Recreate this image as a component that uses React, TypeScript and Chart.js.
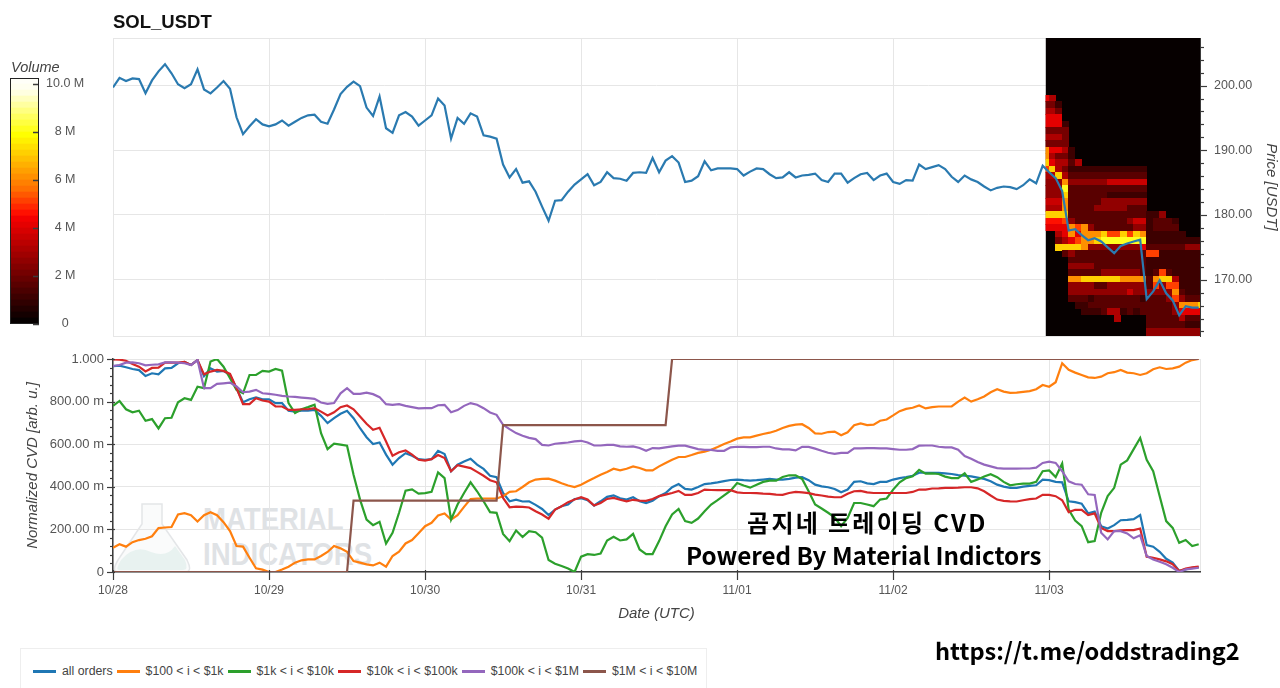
import React, { useEffect, useRef } from 'react';
import { Chart, registerables } from 'chart.js';

Chart.register(...registerables);

const FONT = '"Liberation Sans", Arial, sans-serif';

const dayLabels = ['10/28', '10/29', '10/30', '10/31', '11/01', '11/02', '11/03'];

// hourly price, one row per day
const price = [
    199.7, 201.2, 200.7, 201.1, 201, 198.8, 200.8, 202.2, 203.3, 201.9, 200.2, 199.6, 200.2, 202.5, 199.4, 198.8, 199.7, 200.7, 199.5, 195.1, 192.5, 193.7, 194.8, 194,
    193.7, 194, 194.6, 193.8, 194.4, 195, 195.4, 195.5, 194.4, 194.1, 196.3, 198.7, 199.8, 200.6, 199.9, 196.6, 195.3, 198.3, 193.4, 192.7, 195.4, 195.9, 195.2, 193.8,
    194.6, 195.4, 198, 196.9, 191.8, 195, 194.1, 195.7, 195.2, 192.3, 192.1, 191.8, 187.8, 185.8, 187.1, 185, 185.2, 183.6, 181.3, 179.1, 182.2, 182.3, 183.6, 184.7,
    185.5, 186.3, 184.6, 185.1, 186.6, 185.7, 185.6, 185.3, 186.5, 186.6, 186.5, 188.8, 186.6, 188.4, 189.1, 188.1, 185.1, 185.3, 186, 188.3, 186.9, 187.2, 187.2, 187.2,
    187.1, 186.1, 186.7, 187.2, 187.1, 186.3, 185.7, 185.8, 186.6, 185.8, 186.1, 186.2, 186.4, 185.4, 185.1, 186.4, 186.4, 185, 185.7, 186.3, 186.5, 185.4, 186.1, 186.4,
    185.1, 184.8, 185.4, 185.3, 187.8, 187.1, 187.4, 187.7, 187.1, 185.9, 185.1, 186.1, 185.5, 185.1, 184.4, 183.8, 184.2, 184.4, 184.3, 184, 184.6, 185.5, 184.9, 187.6,
    186.6, 185.7, 183.7, 177.6, 177.8, 176.9, 176.1, 176.4, 175.9, 175, 174.1, 175.2, 175.6, 175.9, 176.2, 167, 168.2, 169.9, 167.9, 166.8, 164.5, 165.9, 165.7, 165.7,
];

const allOrders = [
    .967, .969, .961, .953, .948, .92, .933, .928, .956, .958, .98, .986, .972, .995, .92, .956, .941, .944, .925, .863, .797, .811, .82, .811,
    .811, .793, .793, .757, .753, .757, .758, .761, .733, .699, .722, .743, .757, .722, .675, .633, .601, .608, .551, .504, .535, .558, .546, .53,
    .527, .53, .569, .554, .473, .504, .519, .532, .504, .484, .452, .445, .371, .332, .34, .331, .332, .315, .296, .267, .293, .309, .317, .343,
    .346, .337, .312, .332, .353, .36, .346, .34, .351, .332, .324, .335, .356, .371, .398, .413, .39, .387, .399, .413, .416, .421, .427, .432,
    .434, .431, .429, .431, .434, .437, .434, .434, .437, .443, .445, .431, .41, .402, .398, .39, .374, .387, .423, .426, .416, .413, .423, .423,
    .434, .441, .446, .452, .466, .466, .466, .465, .463, .46, .455, .452, .449, .443, .437, .426, .41, .401, .395, .395, .401, .404, .407, .434,
    .431, .423, .421, .332, .328, .321, .275, .284, .215, .204, .22, .243, .245, .248, .267, .126, .119, .095, .062, .044, .005, .012, .02, .022,
];

const tier100 = [
    .114, .13, .119, .14, .15, .156, .168, .206, .209, .211, .27, .276, .267, .237, .267, .281, .267, .234, .192, .122, .119, .067, .017, .011,
    0, 0, .012, .025, .044, .055, .059, .059, .075, .094, .122, .111, .095, .051, .044, .036, .031, .044, .025, .075, .095, .134, .15, .182,
    .215, .231, .265, .275, .246, .267, .306, .342, .345, .345, .345, .345, .356, .376, .379, .399, .421, .434, .437, .438, .429, .417, .406, .399,
    .41, .426, .441, .457, .47, .485, .477, .485, .496, .488, .477, .477, .496, .512, .527, .54, .54, .549, .559, .565, .574, .587, .601, .613,
    .626, .632, .632, .64, .648, .654, .663, .676, .686, .692, .694, .676, .651, .649, .657, .659, .642, .656, .689, .698, .69, .692, .71, .716,
    .735, .755, .766, .771, .782, .768, .774, .777, .777, .777, .8, .819, .8, .811, .824, .844, .858, .847, .841, .842, .846, .849, .858, .878,
    .87, .891, .98, .949, .936, .925, .914, .911, .917, .933, .938, .949, .936, .933, .925, .933, .952, .961, .953, .956, .964, .983, .995, 1,
];

const tier1k = [
    .78, .803, .764, .75, .757, .71, .718, .674, .722, .724, .797, .816, .808, .87, .863, .988, 1, .964, .91, .855, .839, .925, .925, .944,
    .941, .953, .945, .793, .746, .764, .774, .785, .652, .577, .602, .598, .593, .457, .34, .246, .22, .236, .134, .184, .278, .382, .388, .368,
    .37, .376, .468, .441, .246, .317, .371, .421, .379, .332, .281, .278, .179, .145, .195, .164, .192, .187, .161, .056, .039, .028, .016, 0,
    .072, .084, .08, .087, .148, .165, .148, .153, .179, .106, .084, .084, .145, .215, .27, .296, .239, .231, .251, .285, .317, .337, .36, .382,
    .418, .406, .396, .41, .423, .429, .429, .446, .454, .454, .437, .379, .317, .298, .278, .257, .215, .254, .324, .324, .317, .309, .34, .345,
    .387, .421, .441, .449, .479, .462, .463, .46, .448, .441, .441, .463, .423, .434, .448, .459, .445, .423, .407, .412, .415, .415, .423, .473,
    .477, .446, .509, .293, .242, .215, .14, .145, .278, .356, .395, .504, .524, .577, .629, .527, .473, .356, .239, .207, .137, .15, .122, .13,
];

const tier10k = [
    .998, .997, .992, .977, .964, .942, .958, .959, .983, .983, .983, .986, .972, .995, .928, .941, .949, .944, .93, .863, .788, .788, .816, .805,
    .8, .777, .777, .761, .761, .764, .764, .769, .753, .735, .75, .774, .782, .764, .73, .696, .668, .677, .613, .546, .562, .571, .551, .527,
    .523, .53, .549, .535, .473, .501, .495, .488, .47, .452, .431, .421, .348, .304, .307, .306, .303, .285, .27, .25, .293, .309, .328, .34,
    .351, .34, .312, .324, .343, .348, .339, .332, .339, .335, .334, .343, .356, .363, .371, .381, .362, .362, .371, .387, .385, .384, .385, .384,
    .374, .371, .371, .37, .368, .367, .363, .362, .371, .376, .374, .37, .363, .359, .354, .351, .351, .367, .379, .381, .374, .371, .371, .371,
    .371, .371, .371, .376, .387, .387, .392, .393, .395, .395, .396, .398, .398, .393, .379, .359, .34, .334, .332, .331, .337, .342, .345, .362,
    .362, .356, .337, .281, .292, .292, .267, .275, .207, .192, .192, .195, .197, .197, .204, .072, .067, .059, .05, .037, .005, .016, .022, .025,
];

const tier100k = [
    .967, .972, .983, .984, .98, .97, .973, .975, .984, .984, .983, .98, .972, .995, .863, .863, .883, .886, .889, .871, .844, .847, .855, .839,
    .836, .832, .827, .824, .822, .819, .816, .813, .796, .789, .793, .839, .863, .836, .836, .842, .835, .821, .788, .785, .788, .78, .774, .768,
    .769, .769, .783, .785, .75, .76, .78, .793, .785, .769, .749, .738, .691, .671, .652, .64, .63, .624, .597, .594, .602, .605, .608, .613,
    .616, .608, .594, .594, .597, .597, .59, .588, .59, .582, .569, .582, .58, .585, .59, .593, .593, .585, .577, .573, .573, .569, .569, .585,
    .588, .587, .586, .586, .588, .588, .58, .576, .576, .571, .588, .587, .579, .569, .56, .555, .559, .559, .58, .58, .582, .582, .58, .58,
    .577, .574, .574, .577, .593, .594, .594, .588, .585, .585, .574, .544, .532, .516, .504, .496, .488, .485, .485, .485, .486, .486, .49, .512,
    .518, .512, .473, .426, .413, .41, .365, .362, .184, .153, .192, .192, .181, .158, .172, .075, .059, .048, .036, .02, 0, .012, .016, .02,
];

const tier1m = [
    0, 0, 0, 0, 0, 0, 0, 0, 0, 0, 0, 0, 0, 0, 0, 0, 0, 0, 0, 0, 0, 0, 0, 0,
    0, 0, 0, 0, 0, 0, 0, 0, 0, 0, 0, 0, 0, .335, .335, .335, .335, .335, .335, .335, .335, .335, .335, .335,
    .335, .335, .335, .335, .335, .335, .335, .335, .335, .335, .335, .335, .69, .69, .69, .69, .69, .69, .69, .69, .69, .69, .69, .69,
    .69, .69, .69, .69, .69, .69, .69, .69, .69, .69, .69, .69, .69, .69, 1, 1, 1, 1, 1, 1, 1, 1, 1, 1,
    1, 1, 1, 1, 1, 1, 1, 1, 1, 1, 1, 1, 1, 1, 1, 1, 1, 1, 1, 1, 1, 1, 1, 1,
    1, 1, 1, 1, 1, 1, 1, 1, 1, 1, 1, 1, 1, 1, 1, 1, 1, 1, 1, 1, 1, 1, 1, 1,
    1, 1, 1, 1, 1, 1, 1, 1, 1, 1, 1, 1, 1, 1, 1, 1, 1, 1, 1, 1, 1, 1, 1, 1,
];

const seriesNames = ['all orders', '$100 < i < $1k', '$1k < i < $10k', '$10k < i < $100k', '$100k < i < $1M', '$1M < i < $10M'];
const seriesValues = [allOrders, tier100, tier1k, tier10k, tier100k, tier1m];
const seriesColors = ['#1f77b4', '#ff7f0e', '#2ca02c', '#d62728', '#9467bd', '#8c564b'];

// volume colour map, one colour per 0.25 M
const palette = [
    '#060000', '#140000', '#220000', '#300000', '#3d0000', '#4b0000', '#590000', '#670000', '#750000', '#830000', '#910000',
    '#9f0000', '#ad0000', '#bb0000', '#c90000', '#d70000', '#e50000', '#f30000', '#ff1000', '#ff2800', '#ff4000', '#ff5800',
    '#ff7000', '#ff8000', '#ff9000', '#ffa000', '#ffb000', '#ffc000', '#ffd000', '#ffe000', '#fff000', '#ffff00', '#ffff20',
    '#ffff40', '#ffff60', '#ffff80', '#ffffa0', '#ffffc0', '#ffffe0', '#fffff0', '#fffff8',
];
const paletteStep = 0.25;

// order book heatmap: volume in M, columns are hours from heatHourFirst, rows are price levels
const heatHourFirst = 143;
const heatHourStart = 143.44;
const heatPrices = [198, 197, 196, 195, 194, 193, 192, 191, 190, 189, 188, 187, 186, 185, 184, 183, 182, 181, 180, 179, 178, 177, 176, 175, 174, 173, 172, 171, 170, 169, 168, 167, 166, 165, 164, 163, 162, 161];
const heatVolume = [
    [4, 3],
    [2, 2, 1],
    [3, 3, 2],
    [4, 4, 4],
    [4, 4, 4, 1],
    [2, 2, 2, 2],
    [3, 3, 3, 2],
    [2, 2, 2, 2],
    [6, 4, 4, 3, 1],
    [6, 3, 2, 2, 1],
    [7, 4, 3, 3, 1.5, 3],
    [5, 7, 3, 2, 1, 1, 1, 1, 1, 1, 1, 1, 1, 1, 1, 1],
    [3, 3, 7, 3, 1.5, 1.5, 1.5, 1.5, 1.5, 1.5, 1.5, 1.5, 1.5, 1.5, 1.5, 1.5],
    [2.5, 2.5, 2.5, 6, 2.5, 2.5, 2.5, 2.5, 2.5, 2.5, 3.5, 3.5, 3.5, 3.5, 3.5, 3.5],
    [2.5, 2.5, 2.5, 8, 1.5, 1.5, 1.5, 1.5, 1.5, 1.5, 1.5, 1.5, 1.5, 1.5, 1.5, 1.5],
    [2.5, 2.5, 2.5, 7, 1.5, 1.5, 1.5, 1.5, 1.5, 1.5, 1, 1, 1, 1, 1, 1],
    [3.5, 3.5, 3.5, 6, 1.5, 1.5, 1.5, 1.5, 1.5, 2.5, 2.5, 2.5, 2.5, 2.5, 2.5, 2.5],
    [3, 3, 3, 6, 1.5, 1.5, 1.5, 1.5, 2.5, 2.5, 2.5, 2.5, 2.5, 1.5, 1.5, 1.5],
    [7, 7, 7, 7, 1.5, 1.5, 1.5, 1.5, 1.5, 1.5, 1.5, 1.5, 1.5, 1.5, 1.5, 1.5, 1, 1, 2.5],
    [4.5, 4.5, 4.5, 5, 2.5, 1.5, 1.5, 1.5, 1.5, 1.5, 1.5, 1.5, 1.5, 2.5, 3.5, 3.5, 1, 1.5, 1.5, 1.5, 1],
    [4, 4, 4, 4, 6, 5, 6, 2.5, 1.5, 1.5, 1.5, 1.5, 1.5, 1.5, 2.5, 2.5, 1, 1.5, 1.5, 1.5, 1.5],
    [0, 0, 3, 4, 6, 4, 6, 6, 6, 7, 5, 5, 7, 5, 7, 6, 1, 1, 1, 1, 1, 1],
    [0, 0, 2, 3, 4, 5, 6, 6, 7, 8, 8, 8, 8, 8, 8, 8, 1, 1, 1, 1, 1, 1, 1, 1, 1],
    [0, 0, 7, 7, 7, 7, 6, 2.5, 2.5, 2.5, 2.5, 2.5, 2.5, 2.5, 2.5, 4, 1.5, 1.5, 1.5, 1.5, 1.5, 1.5, 2.5, 2.5, 2.5],
    [0, 0, 0, 1.5, 2.5, 1.5, 1.5, 1.5, 1.5, 1.5, 1.5, 1.5, 1.5, 1.5, 1.5, 1.5, 5, 5, 1, 1, 1, 1, 1, 1, 1],
    [0, 0, 0, 0, 1.5, 1.5, 1.5, 1.5, 1.5, 1.5, 1.5, 1.5, 1.5, 1.5, 1.5, 1.5, 1, 1, 1, 1, 1, 1, 1, 1, 1],
    [0, 0, 0, 0, 2.5, 2.5, 2.5, 2.5, 1.5, 1.5, 1.5, 1.5, 1.5, 1.5, 1.5, 1.5, 1, 1, 1, 1, 1, 1, 1, 1, 1],
    [0, 0, 0, 0, 1.5, 1.5, 1.5, 1.5, 1.5, 2.5, 2.5, 2.5, 2.5, 2.5, 2.5, 1.5, 1, 1.5, 5, 1.5, 1, 1, 1, 1, 1],
    [0, 0, 0, 0, 6, 6, 7, 7, 7, 7, 7, 7, 6, 6, 6, 6, 1.5, 6, 7, 7, 3, 1, 1, 1, 1],
    [0, 0, 0, 0, 2.5, 2.5, 2.5, 2.5, 1.5, 1.5, 2.5, 2.5, 2.5, 2.5, 2.5, 2.5, 1.5, 5, 2.5, 5, 5, 1, 1, 1, 1],
    [0, 0, 0, 0, 2.5, 2.5, 2.5, 2.5, 2.5, 2.5, 2.5, 2.5, 2.5, 3.5, 2.5, 2.5, 2.5, 2.5, 2.5, 2.5, 6, 1.5, 1, 1, 1],
    [0, 0, 0, 0, 1.5, 1.5, 1.5, 1, 1.5, 1.5, 1.5, 1.5, 1.5, 1.5, 1.5, 1, 1.5, 1.5, 1.5, 2.5, 5, 2.5, 1.5, 1.5, 1.5],
    [0, 0, 0, 0, 0, 1, 1, 1.5, 1.5, 1.5, 1.5, 1.5, 1.5, 1.5, 1.5, 1.5, 1.5, 1.5, 1.5, 1.5, 2.5, 6, 6, 6, 7],
    [0, 0, 0, 0, 0, 0, 1, 1, 1, 1.5, 3, 3, 1, 1.5, 1, 1.5, 1.5, 1.5, 1.5, 1.5, 2.5, 4, 4, 4, 4],
    [0, 0, 0, 0, 0, 0, 0, 0, 0, 0, 0, 3, 0, 0, 0, 0, 1.5, 1.5, 1.5, 1.5, 1.5, 3, 1.5, 1.5, 1.5],
    [0, 0, 0, 0, 0, 0, 0, 0, 0, 0, 0, 0, 0, 0, 0, 0, 1.5, 1.5, 1.5, 1.5, 1.5, 1.5, 1, 1, 1],
    [0, 0, 0, 0, 0, 0, 0, 0, 0, 0, 0, 0, 0, 0, 0, 0, 2.5, 2.5, 2.5, 2.5, 2.5, 2.5, 2.5, 2.5, 2.5],
    [0, 0, 0, 0, 0, 0, 0, 0, 0, 0, 0, 0, 0, 0, 0, 0, 2.5, 2.5, 2.5, 2.5, 2.5, 2.5, 2.5, 2.5, 2.5],
];

const GRID = '#e6e6e6';
const AXIS = '#3c3c3c';
const LABEL = '#555555';
const X_MAX = 167.2;

const volumeColor = (v: number) => palette[Math.min(palette.length - 1, Math.round(v / paletteStep))];
const toPoints = (values: number[]) => values.map((y, x) => ({ x, y }));

// keep the plot area where the padding says, no room for half labels
const noPadding = (s: any) => {
    s.paddingTop = 0;
    s.paddingBottom = 0;
    s.paddingLeft = 0;
    s.paddingRight = 0;
};

// light frame around the plot
const framePlugin = {
    id: 'frame',
    beforeDraw(chart: any) {
        const { left, top, width, height } = chart.chartArea;
        const ctx = chart.ctx;
        ctx.save();
        ctx.strokeStyle = GRID;
        ctx.strokeRect(left + 0.5, top + 0.5, width, height);
        ctx.restore();
    },
};

// tick marks, chart.js can't do minor ones or ones that cross the axis
const tickPlugin = (id: string, isMajor: (v: number) => boolean, major: number[], minor: number[], width = 1.2) => ({
    id: 'ticks' + id,
    afterDraw(chart: any) {
        const scale = chart.scales[id];
        const ctx = chart.ctx;
        ctx.save();
        ctx.strokeStyle = AXIS;
        ctx.lineWidth = width;
        scale.ticks.forEach((t: any) => {
            const p = Math.round(scale.getPixelForValue(t.value)) + 0.5;
            const [inner, outer] = isMajor(t.value) ? major : minor;
            ctx.beginPath();
            if (scale.position === 'bottom') {
                ctx.moveTo(p, chart.chartArea.bottom - inner);
                ctx.lineTo(p, chart.chartArea.bottom + outer);
            } else if (scale.position === 'left') {
                ctx.moveTo(chart.chartArea.left + inner, p);
                ctx.lineTo(chart.chartArea.left - outer, p);
            } else {
                ctx.moveTo(chart.chartArea.right - inner, p);
                ctx.lineTo(chart.chartArea.right + outer, p);
            }
            ctx.stroke();
        });
        ctx.restore();
    },
});

// heatmap cells go under the price line
const heatPlugin = {
    id: 'heat',
    beforeDatasetsDraw(chart: any) {
        const { x, y } = chart.scales;
        const { top, bottom, right } = chart.chartArea;
        const ctx = chart.ctx;
        const left = x.getPixelForValue(heatHourStart);
        ctx.save();
        ctx.beginPath();
        ctx.rect(left, top, right - left, bottom - top);
        ctx.clip();
        ctx.fillStyle = palette[0];
        ctx.fillRect(left, top, right - left, bottom - top);
        heatVolume.forEach((row, r) => {
            const y0 = y.getPixelForValue(heatPrices[r] + 0.5);
            const y1 = y.getPixelForValue(heatPrices[r] - 0.5);
            row.forEach((v, c) => {
                if (!v) return;
                const x0 = x.getPixelForValue(heatHourFirst + c);
                const x1 = x.getPixelForValue(heatHourFirst + c + 1);
                ctx.fillStyle = volumeColor(v);
                ctx.fillRect(Math.floor(x0), Math.floor(y0), Math.ceil(x1 - x0), Math.ceil(y1 - y0));
            });
        });
        ctx.restore();
    },
};

const isCvdMajor = (v: number) => Math.round(v * 1000) % 200 === 0;

function cvdLabel(v: number) {
    if (!isCvdMajor(v)) return '';
    const milli = Math.round(v * 1000);
    if (milli === 0) return '0';
    if (milli === 1000) return '1.000';
    return milli.toFixed(2) + ' m';
}

const App: React.FC = () => {
    const priceRef = useRef<HTMLCanvasElement | null>(null);
    const cvdRef = useRef<HTMLCanvasElement | null>(null);
    const barRef = useRef<HTMLCanvasElement | null>(null);

    useEffect(() => {
        const priceChart = new Chart(priceRef.current as HTMLCanvasElement, {
            type: 'line',
            data: {
                datasets: [{ data: toPoints(price) as any, borderColor: '#2a7ab0', borderWidth: 2.2, pointRadius: 0, tension: 0 }],
            },
            options: {
                animation: false,
                responsive: false,
                layout: { padding: { left: 113, top: 38, bottom: 9 } },
                plugins: { legend: { display: false }, tooltip: { enabled: false } },
                scales: {
                    x: {
                        type: 'linear',
                        min: 0,
                        max: X_MAX,
                        afterFit: (s: any) => { s.height = 0; noPadding(s); },
                        border: { display: false },
                        grid: { color: GRID, drawTicks: false },
                        ticks: { display: false, stepSize: 24, includeBounds: false },
                    },
                    y: {
                        position: 'right',
                        min: 161.3,
                        max: 207.35,
                        afterFit: (s: any) => { s.width = 80; noPadding(s); },
                        border: { display: true, color: AXIS },
                        grid: {
                            drawTicks: false,
                            color: (c: any) => (c.tick.value % 10 === 0 ? GRID : 'transparent'),
                        },
                        ticks: {
                            stepSize: 2,
                            includeBounds: false,
                            autoSkip: false,
                            padding: 14,
                            color: LABEL,
                            font: { family: FONT, size: 12.5 },
                            callback: (v: any) => (v % 10 === 0 ? Number(v).toFixed(2) : ''),
                        },
                        title: {
                            display: true,
                            text: 'Price [USDT]',
                            color: '#444444',
                            padding: { top: 0, bottom: 2 },
                            font: { family: FONT, size: 15, style: 'italic' },
                        },
                    },
                },
            },
            plugins: [framePlugin, heatPlugin, tickPlugin('y', (v) => v % 10 === 0, [0, 7], [0, 4])],
        });

        const cvdChart = new Chart(cvdRef.current as HTMLCanvasElement, {
            type: 'line',
            data: {
                datasets: seriesNames.map((name, i) => ({
                    label: name,
                    data: toPoints(seriesValues[i]) as any,
                    borderColor: seriesColors[i],
                    borderWidth: 2.2,
                    pointRadius: 0,
                    tension: 0,
                    order: seriesNames.length - i,
                })),
            },
            options: {
                animation: false,
                responsive: false,
                layout: { padding: { top: 14, right: 80 } },
                plugins: { legend: { display: false }, tooltip: { enabled: false } },
                scales: {
                    x: {
                        type: 'linear',
                        min: 0,
                        max: X_MAX,
                        afterFit: (s: any) => { s.height = 73; noPadding(s); },
                        border: { display: true, color: AXIS, width: 1.5 },
                        grid: { color: GRID, drawTicks: false },
                        ticks: {
                            stepSize: 24,
                            includeBounds: false,
                            autoSkip: false,
                            maxRotation: 0,
                            padding: 11,
                            color: LABEL,
                            font: { family: FONT, size: 12 },
                            callback: (v: any) => dayLabels[v / 24],
                        },
                        title: {
                            display: true,
                            text: 'Date (UTC)',
                            color: '#444444',
                            padding: { top: 0, bottom: 22 },
                            font: { family: FONT, size: 15, style: 'italic' },
                        },
                    },
                    y: {
                        min: 0,
                        max: 1,
                        afterFit: (s: any) => { s.width = 113; noPadding(s); },
                        border: { display: true, color: AXIS, width: 1.5 },
                        grid: {
                            drawTicks: false,
                            color: (c: any) => (isCvdMajor(c.tick.value) ? GRID : 'transparent'),
                        },
                        ticks: {
                            stepSize: 0.04,
                            autoSkip: false,
                            padding: 9,
                            color: LABEL,
                            font: { family: FONT, size: 13 },
                            callback: (v: any) => cvdLabel(Number(v)),
                        },
                        title: {
                            display: true,
                            text: 'Normalized CVD [arb. u.]',
                            color: '#444444',
                            padding: { top: 24, bottom: 0 },
                            font: { family: FONT, size: 15, style: 'italic' },
                        },
                    },
                },
            },
            plugins: [
                framePlugin,
                tickPlugin('y', isCvdMajor, [2, 6], [0, 3]),
                tickPlugin('x', () => true, [2, 8], [2, 8]),
            ],
        });

        const barChart = new Chart(barRef.current as HTMLCanvasElement, {
            type: 'bar',
            data: {
                labels: ['Volume'],
                datasets: palette.map((color) => ({
                    data: [paletteStep],
                    backgroundColor: color,
                    borderWidth: 0,
                    barPercentage: 1,
                    categoryPercentage: 1,
                })),
            },
            options: {
                animation: false,
                responsive: false,
                layout: { padding: { left: 10, top: 18, bottom: 16 } },
                plugins: { legend: { display: false }, tooltip: { enabled: false } },
                scales: {
                    x: { stacked: true, display: false },
                    y: {
                        stacked: true,
                        position: 'right',
                        min: 0,
                        max: 10.25,
                        afterFit: (s: any) => { s.width = 61; noPadding(s); },
                        border: { display: false },
                        grid: { display: false, drawTicks: false },
                        ticks: {
                            stepSize: 2,
                            includeBounds: false,
                            padding: 7,
                            crossAlign: 'center',
                            color: LABEL,
                            font: { family: FONT, size: 12.5 },
                            callback: (v: any) => (v === 0 ? '0' : v === 10 ? '10.0 M' : v + ' M'),
                        },
                    },
                },
            },
            plugins: [
                tickPlugin('y', () => true, [6, 0], [6, 0], 1.5),
                {
                    id: 'barBorder',
                    afterDraw(chart: any) {
                        const { left, top, width, height } = chart.chartArea;
                        chart.ctx.save();
                        chart.ctx.strokeStyle = '#222222';
                        chart.ctx.strokeRect(left + 0.5, top + 0.5, width - 1, height - 1);
                        chart.ctx.restore();
                    },
                },
            ],
        });

        return () => {
            priceChart.destroy();
            cvdChart.destroy();
            barChart.destroy();
        };
    }, []);

    const abs: React.CSSProperties = { position: 'absolute', whiteSpace: 'nowrap', fontFamily: FONT };
    const markText: React.CSSProperties = { ...abs, color: '#dfe2e5', fontWeight: 700, fontSize: 31, lineHeight: '34px', transform: 'scaleX(0.89)', transformOrigin: 'left' };
    const noteText: React.CSSProperties = { ...abs, fontFamily: '"Noto Sans CJK KR"', fontWeight: 700, lineHeight: '34px', color: '#000' };

    return (
        <div style={{ position: 'absolute', left: 0, top: 0, width: 1280, height: 688, overflow: 'hidden', background: '#fff' }}>
            {/* watermark sits under the cvd lines */}
            <svg style={{ position: 'absolute', left: 113, top: 500 }} width={80} height={74} viewBox="0 0 80 74">
                <path d="M5 72 Q-2 72 5 60 L29 24 L29 4 L49 4 L49 24 L74 60 Q80 72 72 72 Z" fill="#fafbfb" stroke="#e4e6e8" strokeWidth={1.5} />
                <path d="M6 70 Q2 70 8 60 Q22 44 38 52 Q54 58 62 46 L72 60 Q76 70 70 70 Z" fill="#e8f2f0" />
            </svg>
            <div style={{ ...markText, left: 203, top: 503 }}>MATERIAL</div>
            <div style={{ ...markText, left: 203, top: 538 }}>INDICATORS</div>

            <canvas ref={priceRef} width={1280} height={345} style={{ position: 'absolute', left: 0, top: 0 }} />
            <canvas ref={cvdRef} width={1280} height={300} style={{ position: 'absolute', left: 0, top: 345 }} />
            <canvas ref={barRef} width={100} height={280} style={{ position: 'absolute', left: 0, top: 60 }} />

            <div style={{ ...abs, left: 113, top: 11, fontSize: 18.5, fontWeight: 700, color: '#111' }}>SOL_USDT</div>
            <div style={{ ...abs, left: 11, top: 59, fontSize: 14.5, fontStyle: 'italic', color: '#444' }}>Volume</div>

            <div style={{ ...noteText, left: 747, top: 505, fontSize: 24, letterSpacing: 2.3 }}>곰지네 트레이딩 CVD</div>
            <div style={{ ...noteText, left: 686, top: 538, fontSize: 24.2 }}>Powered By Material Indictors</div>
            <div style={{ ...noteText, left: 935, top: 633, fontSize: 23.6 }}>https://t.me/oddstrading2</div>

            <div style={{ position: 'absolute', left: 20, top: 648, width: 687, height: 60, border: '1px solid #eeeeee', boxSizing: 'border-box' }} />
            <div style={{ ...abs, left: 33, top: 664, display: 'flex', alignItems: 'center', fontSize: 12.3, color: '#444', lineHeight: '14px' }}>
                {seriesNames.map((name, i) => (
                    <React.Fragment key={name}>
                        <span style={{ display: 'inline-block', width: 23, height: 3, background: seriesColors[i], marginRight: 6, marginLeft: i ? 4 : 0 }} />
                        <span>{name}</span>
                    </React.Fragment>
                ))}
            </div>
        </div>
    );
};

export default App;
